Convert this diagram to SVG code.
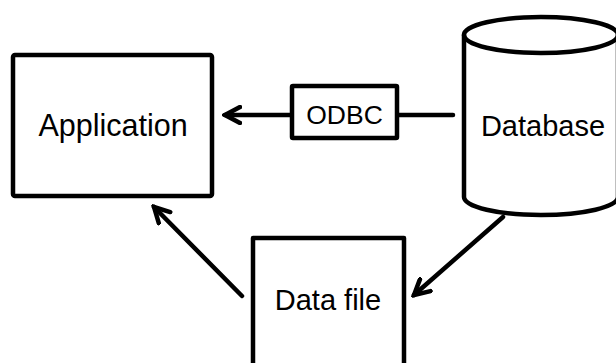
<svg xmlns="http://www.w3.org/2000/svg" width="616" height="363" viewBox="0 0 616 363">
<defs>
<style>
.shape{fill:#fff;stroke:#000;stroke-width:4.5;stroke-linejoin:round}
.lbl{font-family:"Liberation Sans",Arial,sans-serif;font-size:29px;fill:#000;text-anchor:middle}
.conn{fill:none;stroke:#000;stroke-width:4.5;stroke-linecap:round}
</style>
<marker id="arr" viewBox="0 0 20 20" refX="17" refY="10" markerWidth="20" markerHeight="20" markerUnits="userSpaceOnUse" orient="auto">
<path d="M2,2 L17,10 L2,18" fill="none" stroke="#000" stroke-width="4.5" stroke-linecap="round" stroke-linejoin="miter"/>
</marker>
</defs>
<rect width="616" height="363" fill="#fff"/>
<g id="application">
<rect class="shape" x="13" y="55" width="199" height="141" rx="2"/>
<text class="lbl" x="113" y="136" style="font-size:30.5px">Application</text>
</g>
<g id="database">
<path class="shape" d="M464,35 L464,197 A77,18 0 0 0 618,197 L618,35 A77,18 0 0 0 464,35 Z"/>
<path class="conn" d="M464,35 A77,18 0 0 0 618,35"/>
<text class="lbl" x="543" y="136">Database</text>
</g>
<g id="datafile">
<rect class="shape" x="253" y="238" width="151" height="140"/>
<text class="lbl" x="328" y="310">Data file</text>
</g>
<g id="connectors">
<line class="conn" x1="292" y1="115" x2="225" y2="115" marker-end="url(#arr)"/>
<line class="conn" x1="397" y1="115" x2="453" y2="115"/>
<line class="conn" x1="242" y1="296" x2="154" y2="207" marker-end="url(#arr)"/>
<line class="conn" x1="503" y1="217" x2="414" y2="295" marker-end="url(#arr)"/>
</g>
<g id="odbc">
<rect class="shape" x="292" y="86" width="105" height="52" rx="1"/>
<text class="lbl" x="344.5" y="124" style="font-size:26.5px">ODBC</text>
</g>
</svg>
